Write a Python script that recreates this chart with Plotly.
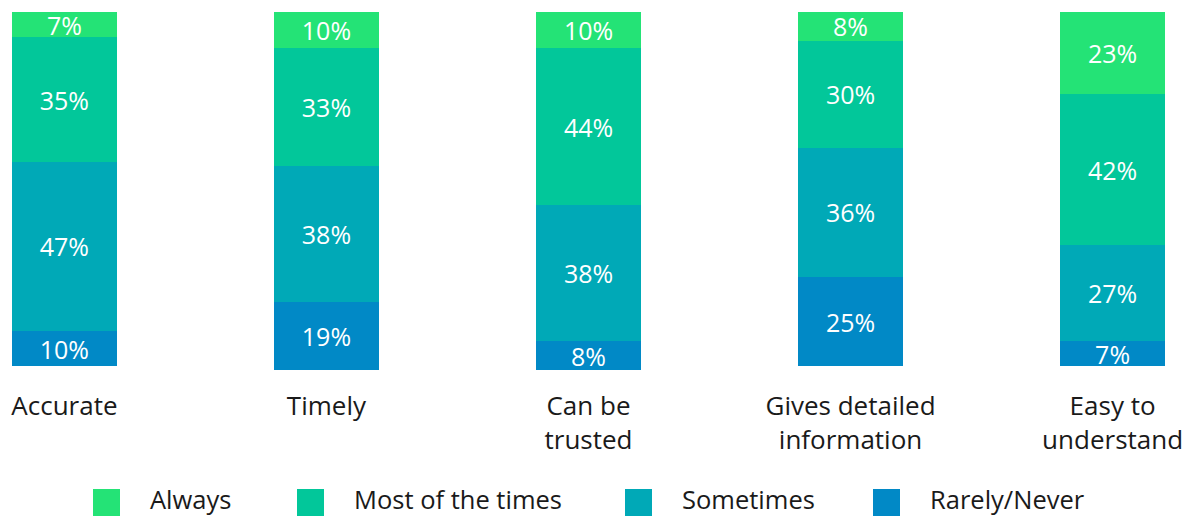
import plotly.graph_objects as go

# ---- data ----
categories = ["Accurate", "Timely", "Can be trusted", "Gives detailed information", "Easy to understand"]
tick_labels = ["Accurate", "Timely", "Can be<br>trusted", "Gives detailed<br>information", "Easy to<br>understand"]
series_names = ["Always", "Most of the times", "Sometimes", "Rarely/Never"]
always = [7, 10, 10, 8, 23]
most_times = [35, 33, 44, 30, 42]
sometimes = [47, 38, 38, 36, 27]
rarely_never = [10, 19, 8, 25, 7]

# ---- style ----
colors = ["#24E376", "#02C79A", "#00A9B7", "#0189C6"]
FONT = "Open Sans"
W, H = 1185, 517
ML, MR, MT, MB = 12, 20, 12, 147
PW, PH = W - ML - MR, H - MT - MB

fig = go.Figure()
for name, vals, col in zip(series_names, [always, most_times, sometimes, rarely_never], colors):
    fig.add_trace(go.Bar(
        x=categories, y=vals, name=name,
        marker=dict(color=col, line=dict(width=0)),
        text=[f"{v}%" for v in vals],
        textposition="inside", insidetextanchor="middle",
        constraintext="none",
        textfont=dict(family=FONT, size=25, color="white"),
        showlegend=False, hoverinfo="skip",
    ))

# manual legend (large square swatches)
legend_sq_x = [93, 297, 625, 873]
sq = 27
sq_top = 489
def px_x(px):
    return (px - ML) / PW
def px_y(py):
    return (MT + PH - py) / PH

shapes, annotations = [], []
for name, col, lx in zip(series_names, colors, legend_sq_x):
    shapes.append(dict(type="rect", xref="paper", yref="paper",
                       x0=px_x(lx), x1=px_x(lx + sq), y0=px_y(sq_top + sq), y1=px_y(sq_top),
                       fillcolor=col, line=dict(width=0)))
    annotations.append(dict(xref="paper", yref="paper", x=px_x(lx + sq + 28), y=px_y(sq_top + 10),
                            text=name, showarrow=False, xanchor="left", yanchor="middle",
                            font=dict(family=FONT, size=25.5, color="#1a1a1a")))

fig.update_layout(
    width=W, height=H,
    margin=dict(l=ML, r=MR, t=MT, b=MB, pad=0),
    barmode="stack", bargap=0.6,
    plot_bgcolor="white", paper_bgcolor="white",
    showlegend=False,
    shapes=shapes, annotations=annotations,
    xaxis=dict(range=[-0.2, 4.2], tickmode="array", tickvals=categories, ticktext=tick_labels,
               showgrid=False, zeroline=False, showline=False,
               ticks="outside", ticklen=13, tickcolor="rgba(0,0,0,0)",
               tickfont=dict(family=FONT, size=26, color="#1a1a1a"), automargin=False),
    yaxis=dict(range=[100, 0], visible=False, showgrid=False, zeroline=False, fixedrange=True),
)

fig.write_html("out.html")
